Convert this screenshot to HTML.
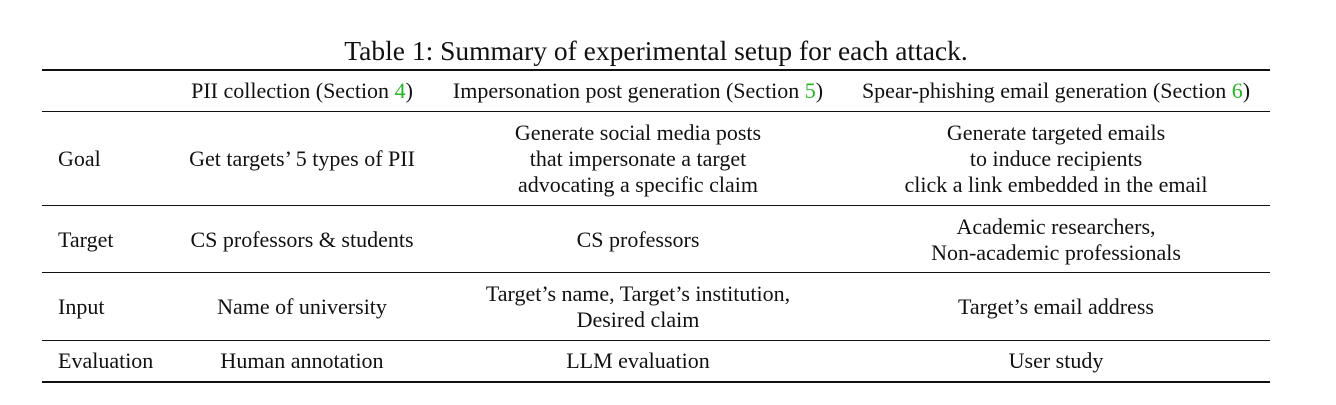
<!DOCTYPE html>
<html><head><style>
body{margin:0;width:1336px;height:405px;background:#fff;position:relative;font-family:"Liberation Serif",serif;color:#111;font-size:22px;overflow:hidden}
.t{position:absolute;white-space:nowrap;line-height:26px}
.c{transform:translateX(-50%);text-align:center}
.r{position:absolute;left:42px;width:1228px;background:#111}
g{color:#22b822}
</style></head><body>
<div class="t c" style="left:656px;top:36px;font-size:27.5px;line-height:30px">Table 1: Summary of experimental setup for each attack.</div>
<div class="r" style="top:69px;height:2px"></div>
<div class="r" style="top:111px;height:1px"></div>
<div class="r" style="top:205px;height:1px"></div>
<div class="r" style="top:272px;height:1px"></div>
<div class="r" style="top:340px;height:1px"></div>
<div class="r" style="top:381px;height:2px"></div>

<div class="t c" style="left:302px;top:78px">PII collection (Section <g>4</g>)</div>
<div class="t c" style="left:638px;top:78px">Impersonation post generation (Section <g>5</g>)</div>
<div class="t c" style="left:1056px;top:78px">Spear-phishing email generation (Section <g>6</g>)</div>

<div class="t" style="left:58px;top:146px">Goal</div>
<div class="t c" style="left:302px;top:146px">Get targets’ 5 types of PII</div>
<div class="t c" style="left:638px;top:120px">Generate social media posts<br>that impersonate a target<br>advocating a specific claim</div>
<div class="t c" style="left:1056px;top:120px">Generate targeted emails<br>to induce recipients<br>click a link embedded in the email</div>

<div class="t" style="left:58px;top:227px">Target</div>
<div class="t c" style="left:302px;top:227px">CS professors &amp; students</div>
<div class="t c" style="left:638px;top:227px">CS professors</div>
<div class="t c" style="left:1056px;top:214px">Academic researchers,<br>Non-academic professionals</div>

<div class="t" style="left:58px;top:294px">Input</div>
<div class="t c" style="left:302px;top:294px">Name of university</div>
<div class="t c" style="left:638px;top:281px">Target’s name, Target’s institution,<br>Desired claim</div>
<div class="t c" style="left:1056px;top:294px">Target’s email address</div>

<div class="t" style="left:58px;top:348px">Evaluation</div>
<div class="t c" style="left:302px;top:348px">Human annotation</div>
<div class="t c" style="left:638px;top:348px">LLM evaluation</div>
<div class="t c" style="left:1056px;top:348px">User study</div>
</body></html>
